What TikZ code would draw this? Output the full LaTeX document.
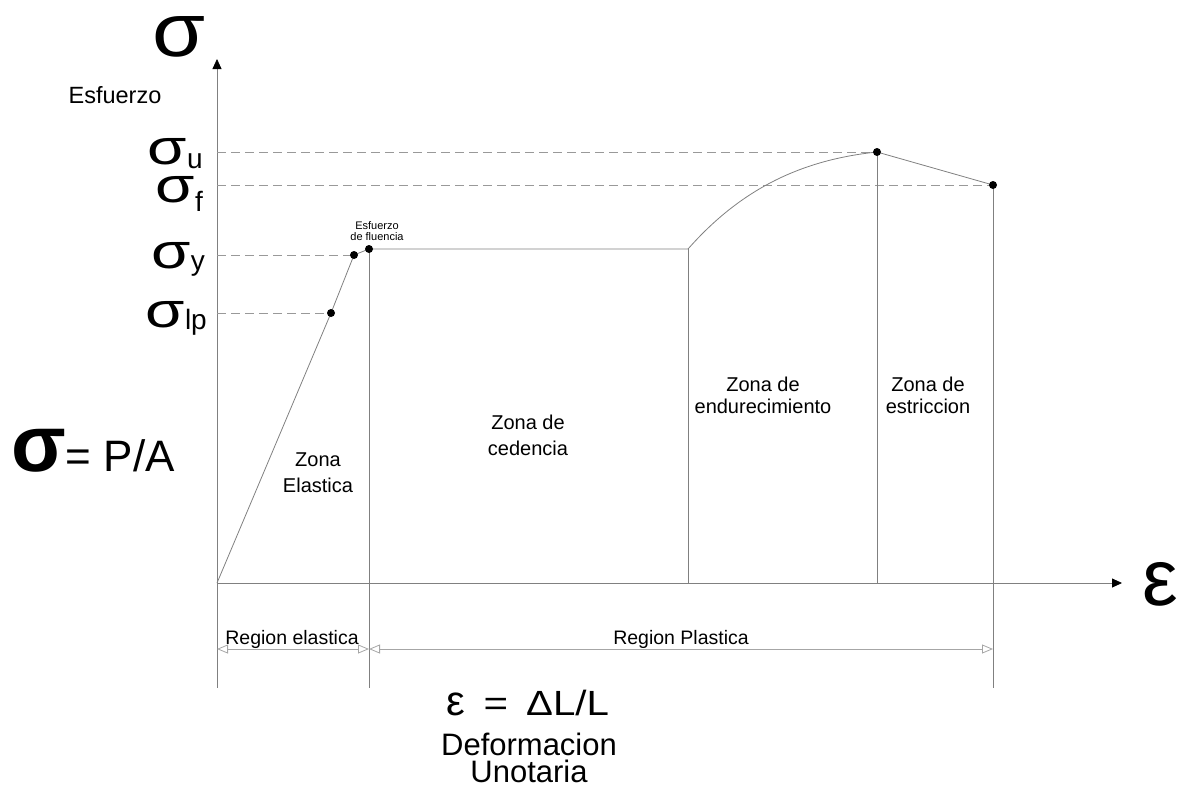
\documentclass[tikz,border=0pt]{standalone}
\usepackage{fontspec}
\usepackage{graphicx}
\setmainfont{Liberation Sans}
\usetikzlibrary{arrows.meta}
\newcommand{\sz}[1]{\fontsize{#1}{#1}\selectfont}
\newcommand{\sigsub}[2]{\scalebox{1.1}[0.85]{\sz{58}σ}\raisebox{-#2}{\sz{28}#1}}
\tikzset{
  thin line/.style={draw=black!50, line width=0.8pt},
  axis/.style={thin line, -{Triangle[length=10pt,width=9pt,color=black]}},
  guide/.style={draw=black!40, line width=0.8pt, dash pattern=on 9pt off 5pt},
  dim/.style={draw=black!35, line width=0.8pt, {Triangle[open,length=11pt,width=9pt]}-{Triangle[open,length=11pt,width=9pt]}},
  dot/.style={fill=black, circle, inner sep=0pt, minimum size=8pt},
  zona/.style={align=center, font=\sz{20}},
  siglab/.style={anchor=base east, inner sep=0pt, text height=27pt, text depth=5pt},
}
\begin{document}
\begin{tikzpicture}[x=1pt, y=-1pt]
\useasboundingbox (0,0) rectangle (1180,788);

% points of the curve
\coordinate (O) at (217,583);
\coordinate (ytop) at (217,59);
\coordinate (xend) at (1122,583);
\coordinate (lp) at (331,313);
\coordinate (yp) at (354,255);
\coordinate (fl) at (369,249);
\coordinate (hs) at (688,249);
\coordinate (ut) at (877,152);
\coordinate (fr) at (993,185);
\coordinate (bot) at (217,688);
\coordinate (dl) at (217,649);

% axes
\draw[axis] (O) -- (ytop);
\draw[axis] (O) -- (xend);

% guides
\draw[guide] (O |- ut) -- (ut);
\draw[guide] (O |- fr) -- (fr);
\draw[guide] (O |- yp) -- (yp);
\draw[guide] (O |- lp) -- (lp);

% curve
\draw[thin line] (O) -- (lp) -- (yp) -- (fl) -- (hs)
  .. controls (740,190) and (800,160) .. (ut) -- (fr);

% verticals
\draw[thin line] (O) -- (bot);
\draw[thin line] (fl) -- (fl |- bot);
\draw[thin line] (hs) -- (hs |- O);
\draw[thin line] (ut) -- (ut |- O);
\draw[thin line] (fr) -- (fr |- bot);

% regions
\draw[dim] (dl) -- (fl |- dl);
\draw[dim] (fl |- dl) -- (fr |- dl);

\foreach \p in {lp,yp,fl,ut,fr}
  \node[dot] (d\p) at (\p) {};

% labels
\node[anchor=base, inner sep=0pt, text height=40pt, text depth=0pt] (sig) at (179,56) {\scalebox{1}[0.88]{\sz{86}σ}};
\node[anchor=base] (esf) at (115,103) {\sz{23.5}Esfuerzo};
\node[siglab] (su) at (203,164) {\sigsub{u}{4pt}};
\node[siglab] (sf) at (203,202) {\sigsub{f}{9pt}};
\node[siglab] (sy) at (205,268) {\sigsub{y}{2pt}};
\node[siglab] (slp) at (207,327) {\sigsub{lp}{2pt}};
\node[anchor=base west, inner sep=0pt] (pa) at (11,471) {{\sz{80}\bfseries σ}{\sz{44}= P/A}};
\node[anchor=base west, inner sep=0pt, text height=32pt] (eps) at (1142,605) {\sz{80}ε};

\node[align=center, font=\sz{11}] (fluencia) at (377,231) {Esfuerzo\\de fluencia};
\node[zona] (z1) at (318,473) {Zona\\[6pt]Elastica};
\node[zona] (z2) at (528,435) {Zona de\\[6pt]cedencia};
\node[zona] (z3) at (763,395) {Zona de\\[2pt]endurecimiento};
\node[zona] (z4) at (928,395) {Zona de\\[2pt]estriccion};

\node[anchor=base, font=\sz{19.5}] (re) at (292,644) {Region elastica};
\node[anchor=base, font=\sz{19.5}] (rp) at (681,644) {Region Plastica};

\node[anchor=base, inner sep=0pt, text height=24pt, text depth=0pt] (def) at (528,715)
  {\sz{35}{\sz{42}ε}\kern18pt\scalebox{1.2}[1]{=}\kern18pt\scalebox{1.15}[1]{ΔL/L}};
\node[anchor=base, align=center, inner sep=0pt, text height=23pt, font=\fontsize{31}{27}\selectfont] (def1) at (529,782) {Deformacion\\Unotaria};
\end{tikzpicture}
\end{document}
